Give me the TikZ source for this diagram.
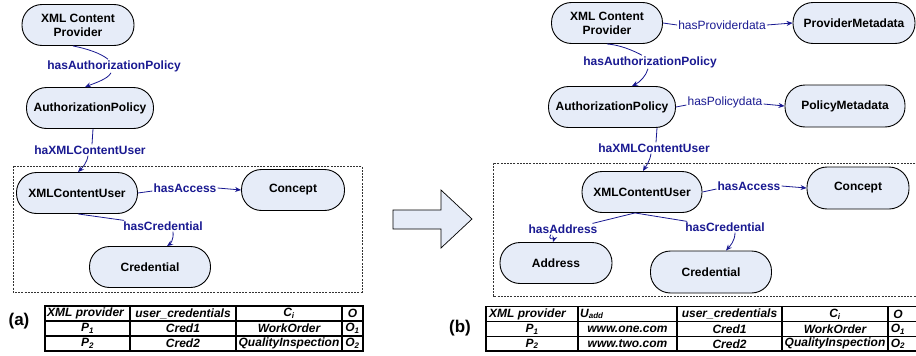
\documentclass[tikz,border=0pt]{standalone}
\usepackage{fontspec}
\setmainfont{Liberation Sans}
\usetikzlibrary{arrows.meta}
\definecolor{nodefill}{RGB}{230,236,248}
\definecolor{edgecol}{RGB}{25,25,145}
\begin{document}
\begin{tikzpicture}[x=1pt,y=-1pt,
  concept/.style={draw=black,line width=0.9pt,fill=nodefill,rectangle,rounded corners=20pt,
    minimum height=41pt,inner sep=0pt,align=center,font=\fontsize{12}{14}\selectfont\bfseries},
  lab/.style={inner sep=1pt,text=edgecol,font=\fontsize{12}{14}\selectfont\bfseries},
  labr/.style={inner sep=1pt,text=edgecol,font=\fontsize{12}{14}\selectfont},
  edge/.style={draw=edgecol,line width=0.8pt},
  aedge/.style={edge,-{Stealth[length=6pt,width=5pt]}},
  dbox/.style={draw=black!80,line width=0.6pt,dash pattern=on 2pt off 1.2pt},
  tline/.style={draw=black,line width=1.2pt},
  tcell/.style={inner sep=0pt,font=\fontsize{12}{14}\selectfont\bfseries\itshape},
  panel/.style={inner sep=0pt,font=\fontsize{17}{20}\selectfont\bfseries}
]
\useasboundingbox (0,0) rectangle (916,356);
\clip (0,0) rectangle (916,356);

% ================= panel (a) =================
\node[concept,minimum width=112pt] (pa) at (78,25) {XML Content\\Provider};
\node[concept,minimum width=127pt] (aa) at (90,108) {AuthorizationPolicy};
\node[concept,minimum width=121pt] (xa) at (77,193) {XMLContentUser};
\node[concept,minimum width=103pt] (ca) at (293,190) {Concept};
\node[concept,minimum width=121pt] (cra) at (150,267) {Credential};

\node[lab] (la1) at (114,66) {hasAuthorizationPolicy};
\node[lab] (la2) at (90,150) {haXMLContentUser};
\node[lab] (la3) at (185,188) {hasAccess};
\node[lab] (la4) at (163,226) {hasCredential};

\draw[edge] ([xshift=-5pt]pa.south) .. controls (88,49) and (100,53) .. ([xshift=-6pt]la1.north);
\draw[aedge] ([xshift=-3pt]la1.south) .. controls (108,79) and (95,83) .. ([xshift=-5pt]aa.north);
\draw[edge] ([xshift=3pt]aa.south) -- ([xshift=2pt]la2.north);
\draw[aedge] ([xshift=-2pt]la2.south) .. controls (87,163) and (82,168) .. ([xshift=1pt]xa.north);
\draw[edge] (xa.east) -- ([yshift=-3pt]la3.west);
\draw[aedge] (la3.east) -- (ca.west);
\draw[edge] ([xshift=1pt]xa.south) -- ([xshift=2pt]la4.north west);
\draw[aedge] ([xshift=10pt]la4.south) .. controls (174,240) and (170,244) .. ([xshift=17pt]cra.north);

\draw[dbox] (13,166) rectangle (362,292);

% table (a)
\coordinate (ta1) at (45,306);
\coordinate (ta2) at (363,351);
\draw[tline] (ta1) rectangle (ta2);
\draw[tline] (45,321) -- (363,321) (45,336) -- (363,336);
\draw[tline] (130,306) -- (130,351) (236,306) -- (236,351) (342,306) -- (342,351);
\node[tcell,anchor=west] (a11) at (47,313.5) {XML provider};
\node[tcell] (a12) at (183,313.5) {user\_credentials};
\node[tcell] (a13) at (289,313.5) {C\textsubscript{i}};
\node[tcell] (a14) at (352.5,313.5) {O};
\node[tcell] (a21) at (87.5,328.5) {P\textsubscript{1}};
\node[tcell] (a22) at (183,328.5) {Cred1};
\node[tcell] (a23) at (289,328.5) {WorkOrder};
\node[tcell] (a24) at (352.5,328.5) {O\textsubscript{1}};
\node[tcell] (a31) at (87.5,343.5) {P\textsubscript{2}};
\node[tcell] (a32) at (183,343.5) {Cred2};
\node[tcell] (a33) at (289,343.5) {QualityInspection};
\node[tcell] (a34) at (352.5,343.5) {O\textsubscript{2}};
\node[panel] (pla) at (19,321) {(a)};

% ================= big arrow =================
\draw[fill=nodefill,draw=black,line width=0.7pt] (393,210) -- (441,210) -- (441,190) -- (472,219)
  -- (441,248) -- (441,229) -- (393,229) -- cycle;

% ================= panel (b) =================
\node[concept,minimum width=111pt] (pb) at (607,23) {XML Content\\Provider};
\node[concept,minimum width=122pt] (pmb) at (854,23) {ProviderMetadata};
\node[concept,minimum width=127pt] (ab) at (612,107) {AuthorizationPolicy};
\node[concept,minimum width=120pt,minimum height=42pt] (polb) at (845,106) {PolicyMetadata};
\node[concept,minimum width=120pt] (xb) at (642,192) {XMLContentUser};
\node[concept,minimum width=102pt,minimum height=42pt] (cb) at (858,188) {Concept};
\node[concept,minimum width=112pt] (adb) at (556,263) {Address};
\node[concept,minimum width=121pt,minimum height=42pt] (crb) at (711,272) {Credential};

\node[labr] (lb0) at (722,25) {hasProviderdata};
\node[lab] (lb1) at (650,62) {hasAuthorizationPolicy};
\node[labr] (lb2) at (725,102) {hasPolicydata};
\node[lab] (lb3) at (654,148) {haXMLContentUser};
\node[lab] (lb4) at (749,186) {hasAccess};
\node[lab] (lb5) at (563,229) {hasAddress};
\node[lab] (lb6) at (725,227) {hasCredential};

\draw[edge] (pb.east) -- (lb0.west);
\draw[aedge] (lb0.east) -- (pmb.west);
\draw[edge] (pb.south) .. controls (620,45) and (632,50) .. ([xshift=-8pt]lb1.north);
\draw[aedge] ([xshift=-2pt]lb1.south) .. controls (646,76) and (640,82) .. ([xshift=20pt]ab.north);
\draw[edge] (ab.east) -- ([yshift=-3pt]lb2.west);
\draw[aedge] ([yshift=-2pt]lb2.east) -- (polb.west);
\draw[edge] ([xshift=45pt]ab.south) -- ([xshift=2pt]lb3.north);
\draw[aedge] ([xshift=-3pt]lb3.south) .. controls (650,161) and (646,166) .. ([xshift=1pt]xb.north);
\draw[edge] (xb.east) -- ([yshift=-3pt]lb4.west);
\draw[aedge] (lb4.east) -- (cb.west);
\draw[edge] ([xshift=-7pt]xb.south) -- ([xshift=-6pt]lb5.north east);
\draw[aedge] ([xshift=-12pt]lb5.south) .. controls (547,240) and (554,239) .. ([xshift=-3pt]adb.north);
\draw[edge] ([xshift=-7pt]xb.south) -- ([xshift=3pt]lb6.north west);
\draw[aedge] ([xshift=10pt]lb6.south) .. controls (735,241) and (730,246) .. ([xshift=15pt]crb.north);

\draw[dbox] (925,163) -- (493,163) -- (493,296) -- (925,296);

% table (b)
\draw[tline] (925,306.5) -- (486,306.5) -- (486,351) -- (925,351);
\draw[tline] (486,321.5) -- (925,321.5) (486,336.5) -- (925,336.5);
\draw[tline] (578,306.5) -- (578,351) (677,306.5) -- (677,351) (782,306.5) -- (782,351) (888,306.5) -- (888,351);
\node[tcell,anchor=west] (b11) at (489,314) {XML provider};
\node[tcell,anchor=west] (b12) at (580,314) {U\textsubscript{add}};
\node[tcell] (b13) at (729.5,314) {user\_credentials};
\node[tcell] (b14) at (835,314) {C\textsubscript{i}};
\node[tcell] (b15) at (898,314) {O};
\node[tcell] (b21) at (532,329) {P\textsubscript{1}};
\node[tcell] (b22) at (627.5,329) {www.one.com};
\node[tcell] (b23) at (729.5,329) {Cred1};
\node[tcell] (b24) at (835,329) {WorkOrder};
\node[tcell] (b25) at (898,329) {O\textsubscript{1}};
\node[tcell] (b31) at (532,343.8) {P\textsubscript{2}};
\node[tcell] (b32) at (627.5,343.8) {www.two.com};
\node[tcell] (b33) at (729.5,343.8) {Cred2};
\node[tcell] (b34) at (835,343.8) {QualityInspection};
\node[tcell] (b35) at (898,343.8) {O\textsubscript{2}};
\node[panel] (plb) at (460,328) {(b)};
\end{tikzpicture}
\end{document}
